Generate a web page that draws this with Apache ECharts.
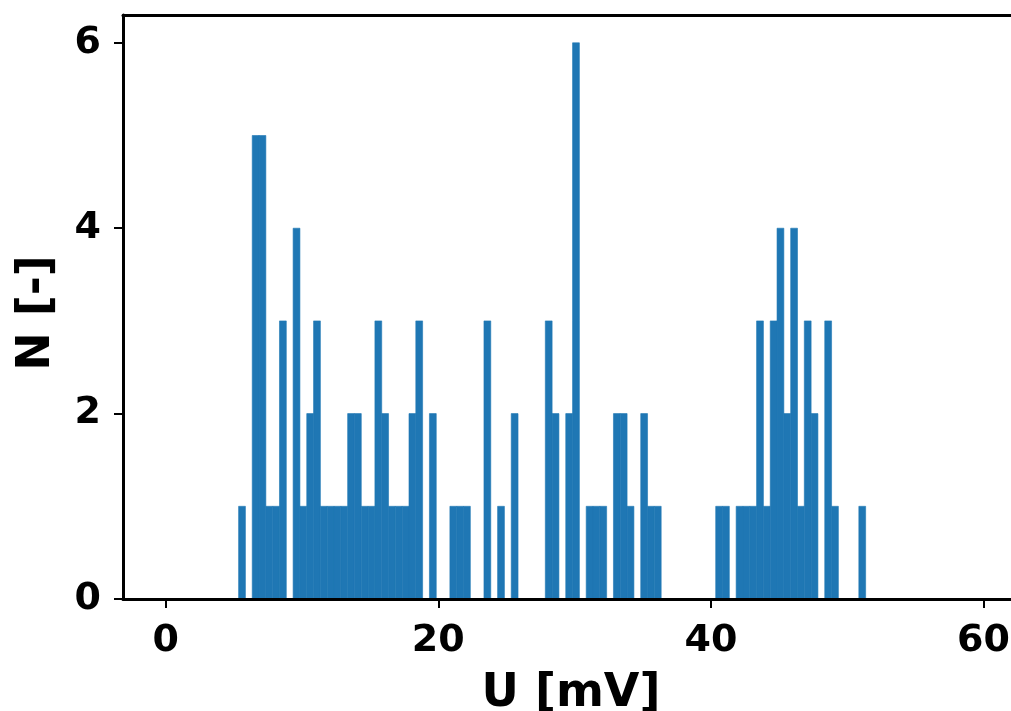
<!DOCTYPE html>
<html>
<head>
<meta charset="utf-8">
<script src="https://cdn.jsdelivr.net/npm/echarts@6/dist/echarts.min.js"></script>
<style>
  html, body { margin: 0; padding: 0; background: #fff; overflow: hidden; }
  #chart { width: 1011px; height: 711px; }
</style>
</head>
<body>
<div id="chart"></div>
<script>
// Histogram data: bin start (mV), bin width (mV), counts per bin
const binStart = 5.35;
const binWidth = 0.5;
const counts = [
  1, 0, 5, 5, 1, 1, 3, 0, 4, 1,
  2, 3, 1, 1, 1, 1, 2, 2, 1, 1,
  3, 2, 1, 1, 1, 2, 3, 0, 2, 0,
  0, 1, 1, 1, 0, 0, 3, 0, 1, 0,
  2, 0, 0, 0, 0, 3, 2, 0, 2, 6,
  0, 1, 1, 1, 0, 2, 2, 1, 0, 2,
  1, 1, 0, 0, 0, 0, 0, 0, 0, 0,
  1, 1, 0, 1, 1, 1, 3, 1, 3, 4,
  2, 4, 1, 3, 2, 0, 3, 1, 0, 0,
  0, 1
];
const xTicks = [0, 20, 40, 60];
const yTicks = [0, 2, 4, 6];
const xLabel = 'U [mV]';
const yLabel = 'N [-]';

const bins = [];
counts.forEach((c, i) => {
  if (c > 0) bins.push([binStart + i * binWidth, binStart + (i + 1) * binWidth, c]);
});

const font = 'DejaVu Sans';
const chart = echarts.init(document.getElementById('chart'), null, { renderer: 'canvas' });
chart.setOption({
  animation: false,
  backgroundColor: '#ffffff',
  grid: { left: 123, width: 896, top: 15, bottom: 112, containLabel: false, outerBoundsMode: 'none' },
  xAxis: [{
    type: 'value', min: -3.13, max: 62.6, position: 'bottom', z: 10,
    name: xLabel, nameLocation: 'middle', nameGap: 72,
    nameTextStyle: { fontFamily: font, fontWeight: 'bold', fontSize: 46, color: '#000' },
    axisLine: { show: true, onZero: false, lineStyle: { color: '#000', width: 3 } },
    axisTick: { show: true, customValues: xTicks, length: 9, lineStyle: { color: '#000', width: 2 } },
    axisLabel: { customValues: xTicks, margin: 23, fontFamily: font, fontWeight: 'bold', fontSize: 38, color: '#000' },
    splitLine: { show: false }
  }, {
    type: 'value', min: -3.13, max: 62.6, position: 'top', z: 10,
    axisLine: { show: true, onZero: false, lineStyle: { color: '#000', width: 3 } },
    axisTick: { show: false }, axisLabel: { show: false }, splitLine: { show: false }
  }],
  yAxis: {
    type: 'value', min: 0, max: 6.3, z: 10,
    name: yLabel, nameLocation: 'middle', nameGap: 63,
    nameTextStyle: { fontFamily: font, fontWeight: 'bold', fontSize: 46, color: '#000', padding: [0, 12, 0, 0] },
    axisLine: { show: true, onZero: false, lineStyle: { color: '#000', width: 3 } },
    axisTick: { show: true, customValues: yTicks, length: 9, lineStyle: { color: '#000', width: 2 } },
    axisLabel: { customValues: yTicks, margin: 22, padding: [13, 0, 0, 0], fontFamily: font, fontWeight: 'bold', fontSize: 38, color: '#000' },
    splitLine: { show: false }
  },
  series: [{
    type: 'custom',
    xAxisIndex: 0,
    yAxisIndex: 0,
    data: bins,
    renderItem: function (params, api) {
      const p0 = api.coord([api.value(0), api.value(2)]);
      const p1 = api.coord([api.value(1), 0]);
      return {
        type: 'rect',
        shape: { x: p0[0], y: p0[1], width: p1[0] - p0[0], height: p1[1] - p0[1] },
        style: { fill: '#1f77b4', stroke: '#1f77b4', lineWidth: 0.6 }
      };
    }
  }]
});
</script>
</body>
</html>
